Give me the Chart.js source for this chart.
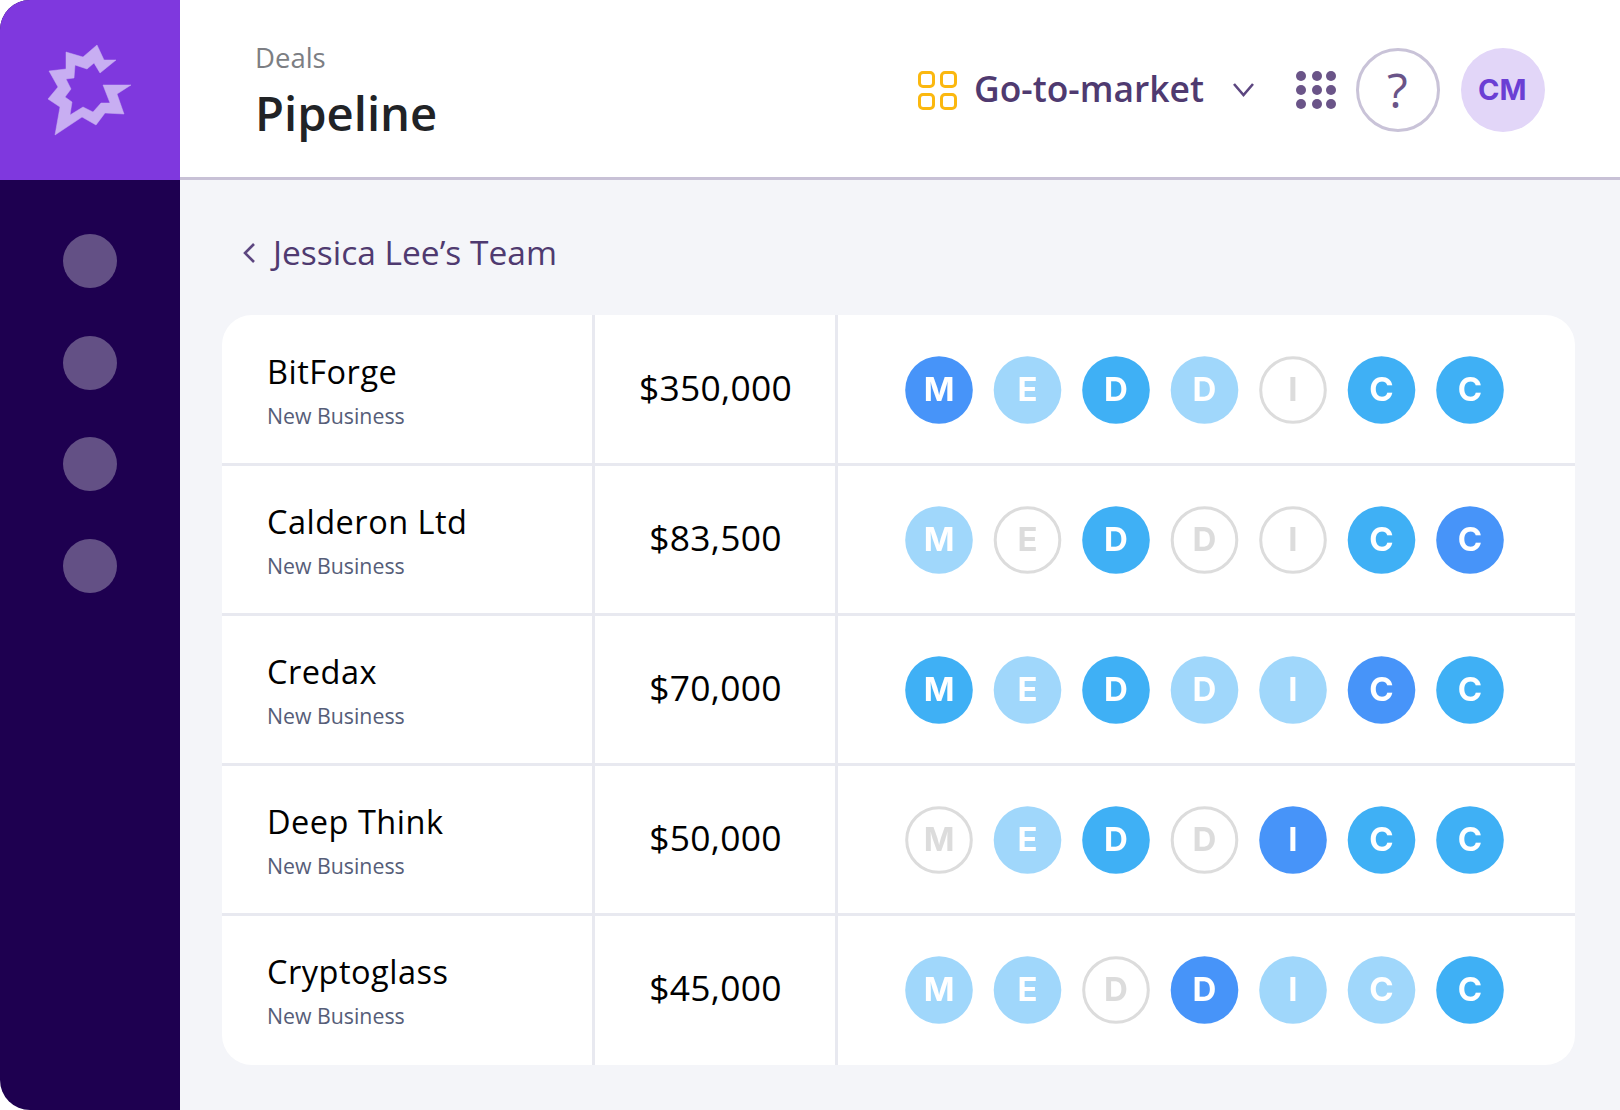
<!DOCTYPE html>
<html>
<head>
<meta charset="utf-8">
<title>Pipeline</title>
<script src="https://cdn.jsdelivr.net/npm/chart.js@4"></script>
<style>
html, body { margin: 0; background: #fff; }
body { width: 1620px; height: 1110px; position: relative; overflow: hidden; font-family: "Open Sans", sans-serif; }
div, svg, canvas { position: absolute; }
.txt { white-space: nowrap; line-height: 1; }
#main { left: 180px; top: 180px; width: 1440px; height: 930px; background: #f4f5f9; }
#sidebar { left: 0; top: 0; width: 180px; height: 1110px; background: #1e0050; border-radius: 30px 0 0 30px; overflow: hidden; }
#brand { left: 0; top: 0; width: 180px; height: 180px; background: #7f38de; }
.navdot { left: 63px; width: 54px; height: 54px; border-radius: 50%; background: #635085; }
#headline { left: 180px; top: 177px; width: 1440px; height: 3px; background: #c8c1d6; }
#card { left: 222px; top: 315px; width: 1353px; height: 750px; background: #fff; border-radius: 30px; overflow: hidden; }
.rowline { left: 0; width: 1353px; height: 3px; background: #e8e9f0; }
.colline { top: 0; width: 3px; height: 750px; background: #e8e9f0; }
#help, #avatar { width: 84px; height: 84px; border-radius: 50%; box-sizing: border-box; }
#help { left: 1356px; top: 48px; border: 3px solid #c9c3d8; }
#avatar { left: 1461px; top: 48px; background: #e2d6f8; }
.yellow { width: 11px; height: 11px; border: 3px solid #fbb80f; border-radius: 5px; }
.gdot { width: 10px; height: 10px; border-radius: 50%; background: #6a5488; }
</style>
</head>
<body>
<div id="main"></div>
<div id="sidebar">
  <div id="brand">
    <svg width="180" height="180" style="left:0;top:0">
      <path fill="#c8aef2" stroke="#c8aef2" stroke-width="0.5" stroke-linejoin="round" d="M55 135 L60 107 L48 99 L58 87 L49 71 L66 69 L66 52 L83 57 L97 45 L104 60 L116 60 L100 73 L94 63 L87 69 L75 65 L74 78 L66 79 L71 89 L65 97 L72 102 L70 115 L83 107 L93 112 L101 103 L110 103 L103 85 L131 85 L117 94 L124 114 L105 113 L96 125 L82 117 Z"/>
    </svg>
  </div>
  <div class="navdot" style="top:234px"></div>
  <div class="navdot" style="top:336px"></div>
  <div class="navdot" style="top:437px"></div>
  <div class="navdot" style="top:539px"></div>
</div>
<div id="headline"></div>

<div class="txt" style="left:255px;top:44px;font-size:27.5px;color:#7c7e83">Deals</div>
<div class="txt" style="left:255px;top:90px;font-size:47.2px;font-weight:600;color:#212326">Pipeline</div>

<div class="yellow" style="left:918px;top:71px"></div>
<div class="yellow" style="left:940px;top:71px"></div>
<div class="yellow" style="left:918px;top:93px"></div>
<div class="yellow" style="left:940px;top:93px"></div>
<div class="txt" style="left:974px;top:71px;font-size:35.4px;font-weight:600;color:#4f3a70">Go-to-market</div>
<svg width="24" height="18" style="left:1232px;top:81px"><path d="M2 3 L11.5 14 L21 3" fill="none" stroke="#5c4680" stroke-width="2.6"/></svg>
<div id="help"></div>
<div class="txt" style="left:1387px;top:66px;font-size:48px;color:#6a5488">?</div>
<div id="avatar"></div>
<div class="txt" style="left:1478px;top:75px;font-size:29px;font-weight:700;color:#6b3fd4;font-family:Inter">CM</div>

<svg width="20" height="24" style="left:241px;top:241px"><path d="M13 3 L4 12 L13 21" fill="none" stroke="#5c4680" stroke-width="2.6"/></svg>
<div class="txt" style="left:273px;top:236px;font-size:33.5px;color:#4f3a70">Jessica Lee’s Team</div>

<div id="card"></div>
<canvas id="meddicc" width="738" height="750" style="left:837px;top:315px"></canvas>

<script>
var deals = ["BitForge", "Calderon Ltd", "Credax", "Deep Think", "Cryptoglass"];
var dealTypes = ["New Business", "New Business", "New Business", "New Business", "New Business"];
var amounts = ["$350,000", "$83,500", "$70,000", "$50,000", "$45,000"];
var letters = ["M", "E", "D", "D", "I", "C", "C"];

// 0 empty, 1 light, 2 medium, 3 strong
var bitforge = [3, 1, 2, 1, 0, 2, 2];
var calderon = [1, 0, 2, 0, 0, 2, 3];
var credax = [2, 1, 2, 1, 1, 3, 2];
var deepThink = [0, 1, 2, 0, 3, 2, 2];
var cryptoglass = [1, 1, 0, 3, 1, 1, 2];
var statuses = [bitforge, calderon, credax, deepThink, cryptoglass];

var fillColors = ["#ffffff", "#a0d7fb", "#3fb0f5", "#4794f9"];

var card = document.getElementById("card");
function addText(parent, text, left, top, size, color, spacing) {
	var el = document.createElement("div");
	el.className = "txt";
	el.textContent = text;
	el.style.left = left + "px";
	el.style.top = top + "px";
	el.style.fontSize = size + "px";
	el.style.color = color;
	if (spacing) el.style.letterSpacing = spacing + "px";
	parent.appendChild(el);
	return el;
}
deals.forEach(function (name, i) {
	var y = i * 150;
	addText(card, name, 45, y + 41, 32.5, "#000000", 0.5);
	addText(card, dealTypes[i], 45, y + 90, 21.3, "#565d78");
	var amt = addText(card, amounts[i], 372, y + 55, 35.4, "#000000", 0.3);
	amt.style.width = "243px";
	amt.style.textAlign = "center";
	if (i > 0) {
		var line = document.createElement("div");
		line.className = "rowline";
		line.style.top = y - 2 + "px";
		card.appendChild(line);
	}
});
[370, 613].forEach(function (x) {
	var line = document.createElement("div");
	line.className = "colline";
	line.style.left = x + "px";
	card.appendChild(line);
});

[71, 85, 99].forEach(function (top) {
	[1296, 1311.5, 1326].forEach(function (left) {
		var d = document.createElement("div");
		d.className = "gdot";
		d.style.left = left + "px";
		d.style.top = top + "px";
		document.body.appendChild(d);
	});
});

var points = [];
statuses.forEach(function (row, r) {
	row.forEach(function (s, c) {
		points.push({ x: c, y: deals[r], status: s, letter: letters[c] });
	});
});

var letterPlugin = {
	id: "letterPlugin",
	afterDatasetsDraw: function (chart) {
		var ctx = chart.ctx;
		ctx.save();
		ctx.font = "700 33px Inter";
		ctx.textAlign = "center";
		ctx.textBaseline = "middle";
		chart.getDatasetMeta(0).data.forEach(function (el, i) {
			var p = points[i];
			ctx.fillStyle = p.status === 0 ? "#dcdcdc" : "#ffffff";
			ctx.fillText(p.letter, el.x, el.y + 1);
		});
		ctx.restore();
	},
};

new Chart(document.getElementById("meddicc"), {
	type: "scatter",
	data: {
		datasets: [
			{
				data: points,
				clip: false,
				pointRadius: function (c) {
					return c.raw.status === 0 ? 32.3 : 33.8;
				},
				pointBackgroundColor: function (c) {
					return fillColors[c.raw.status];
				},
				pointBorderColor: "#dcdcdc",
				pointBorderWidth: function (c) {
					return c.raw.status === 0 ? 3 : 0;
				},
			},
		],
	},
	options: {
		responsive: false,
		animation: false,
		events: [],
		layout: { autoPadding: false, padding: { left: 102, right: 105, top: 0, bottom: 0 } },
		plugins: { legend: { display: false }, tooltip: { enabled: false } },
		scales: {
			x: { type: "linear", min: 0, max: 6, display: false },
			y: { type: "category", labels: deals, offset: true, display: false },
		},
	},
	plugins: [letterPlugin],
});
</script>
</body>
</html>
